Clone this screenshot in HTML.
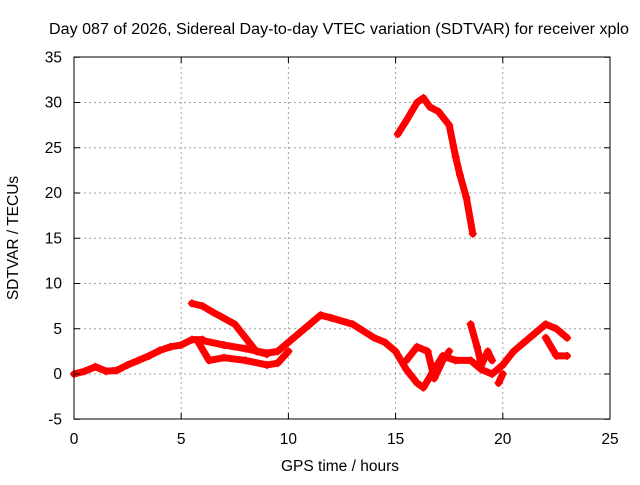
<!DOCTYPE html>
<html><head><meta charset="utf-8"><style>
body{margin:0;background:#fff}
svg{font-family:"Liberation Sans",sans-serif;font-size:15.5px}
</style></head><body>
<svg width="640" height="480">
<rect width="640" height="480" fill="#fff"/>
<g id="grid"></g>
<g id="data"></g>
<rect x="74" y="57" width="536" height="362" fill="none" stroke="#000" stroke-width="1"/>
<g id="ticks"></g>
<text x="49" y="34" textLength="580" lengthAdjust="spacingAndGlyphs">Day 087 of 2026, Sidereal Day-to-day VTEC variation (SDTVAR) for receiver xplo</text>
<text x="340" y="471" text-anchor="middle">GPS time / hours</text>
<text x="18" y="238" text-anchor="middle" transform="rotate(-90 18 238)">SDTVAR / TECUs</text>
</svg>
<script>
const xTicks=[0,5,10,15,20,25];
const yTicks=[-5,0,5,10,15,20,25,30,35];
const trackA=[[0,0],[0.5,0.3],[1,0.8],[1.5,0.3],[2,0.4],[2.5,1],[3,1.5],[3.5,2],[4,2.6],[4.5,3],[5,3.2],[5.5,3.8],[6,3.8]];
const trackB=[[6,3.7],[7,3.2],[8,2.8],[9,2.3],[9.5,2.5],[10,3.5],[10.5,4.5],[11,5.5],[11.5,6.5],[12,6.2],[13,5.5],[14,4],[14.5,3.5],[15,2.5],[15.5,0.5],[16,-1],[16.3,-1.5],[16.8,0.5],[17.2,2],[17.8,1.5],[18.5,1.5],[19,0.5],[19.5,0],[20,1],[20.5,2.5],[21,3.5],[21.5,4.5],[22,5.5],[22.5,5],[23,4]];
const trackC=[[5.8,3.5],[6.3,1.5],[7,1.8],[8,1.5],[9,1],[9.5,1.2],[10,2.5]];
const trackD=[[5.5,7.8],[6,7.5],[6.5,6.8],[7.5,5.5],[8,4],[8.5,2.5],[9,2.2]];
const trackE=[[15.5,1.5],[16,3],[16.5,2.5],[16.8,-0.5],[17.2,1.5],[17.5,2.5]];
const trackF=[[18.5,5.5],[18.8,3],[19,1],[19.3,2.5],[19.5,1.5]];
const trackG=[[22,4],[22.5,2],[23,2]];
const trackH=[[19.8,-1],[20,0]];
const trackStorm=[[15.1,26.5],[15.5,28],[16,30],[16.3,30.5],[16.6,29.5],[17,29],[17.5,27.5],[17.8,24],[18,22],[18.3,19.5],[18.6,15.5]];
const NS='http://www.w3.org/2000/svg';
const X=v=>74+v*536/25, Y=v=>374-v*362/40;
const grid=document.getElementById('grid'),ticks=document.getElementById('ticks'),data=document.getElementById('data');
function mk(tag,attrs,parent){const e=document.createElementNS(NS,tag);for(const k in attrs)e.setAttribute(k,attrs[k]);parent.appendChild(e);return e;}
xTicks.forEach(t=>{
 if(t>0&&t<25){const g=mk('line',{x1:X(t),x2:X(t),y1:57,y2:419,stroke:'#a0a0a0','stroke-dasharray':'2,3'},grid);
 
 }
 mk('line',{x1:X(t),x2:X(t),y1:419,y2:413,stroke:'#000'},ticks);
 mk('line',{x1:X(t),x2:X(t),y1:57,y2:63,stroke:'#000'},ticks);
 const l=mk('text',{x:X(t),y:444,'text-anchor':'middle'},ticks);l.textContent=t;
 
 
});
yTicks.forEach(t=>{
 if(t>-5&&t<35){const g=mk('line',{x1:74,x2:610,y1:Y(t),y2:Y(t),stroke:'#a0a0a0','stroke-dasharray':'2,3'},grid);
 
 }
 mk('line',{x1:74,x2:80,y1:Y(t),y2:Y(t),stroke:'#000'},ticks);
 mk('line',{x1:610,x2:604,y1:Y(t),y2:Y(t),stroke:'#000'},ticks);
 const l=mk('text',{x:62,y:Y(t)+5,'text-anchor':'end'},ticks);l.textContent=t;
 
 
});
[trackA,trackB,trackC,trackD,trackE,trackF,trackG,trackH,trackStorm].forEach((tr,i)=>{
 const p=mk('polyline',{points:tr.map(d=>X(d[0])+','+Y(d[1])).join(' '),fill:'none',stroke:'#f00','stroke-width':7,'stroke-linejoin':'round','stroke-linecap':'round'},data);
 
 
 tr.forEach(d=>{const m=mk('path',{d:`M${X(d[0])-4},${Y(d[1])}h8M${X(d[0])},${Y(d[1])-4}v8`,stroke:'#f00','stroke-width':1.5},data);
 
 });
});
</script>
</body></html>
